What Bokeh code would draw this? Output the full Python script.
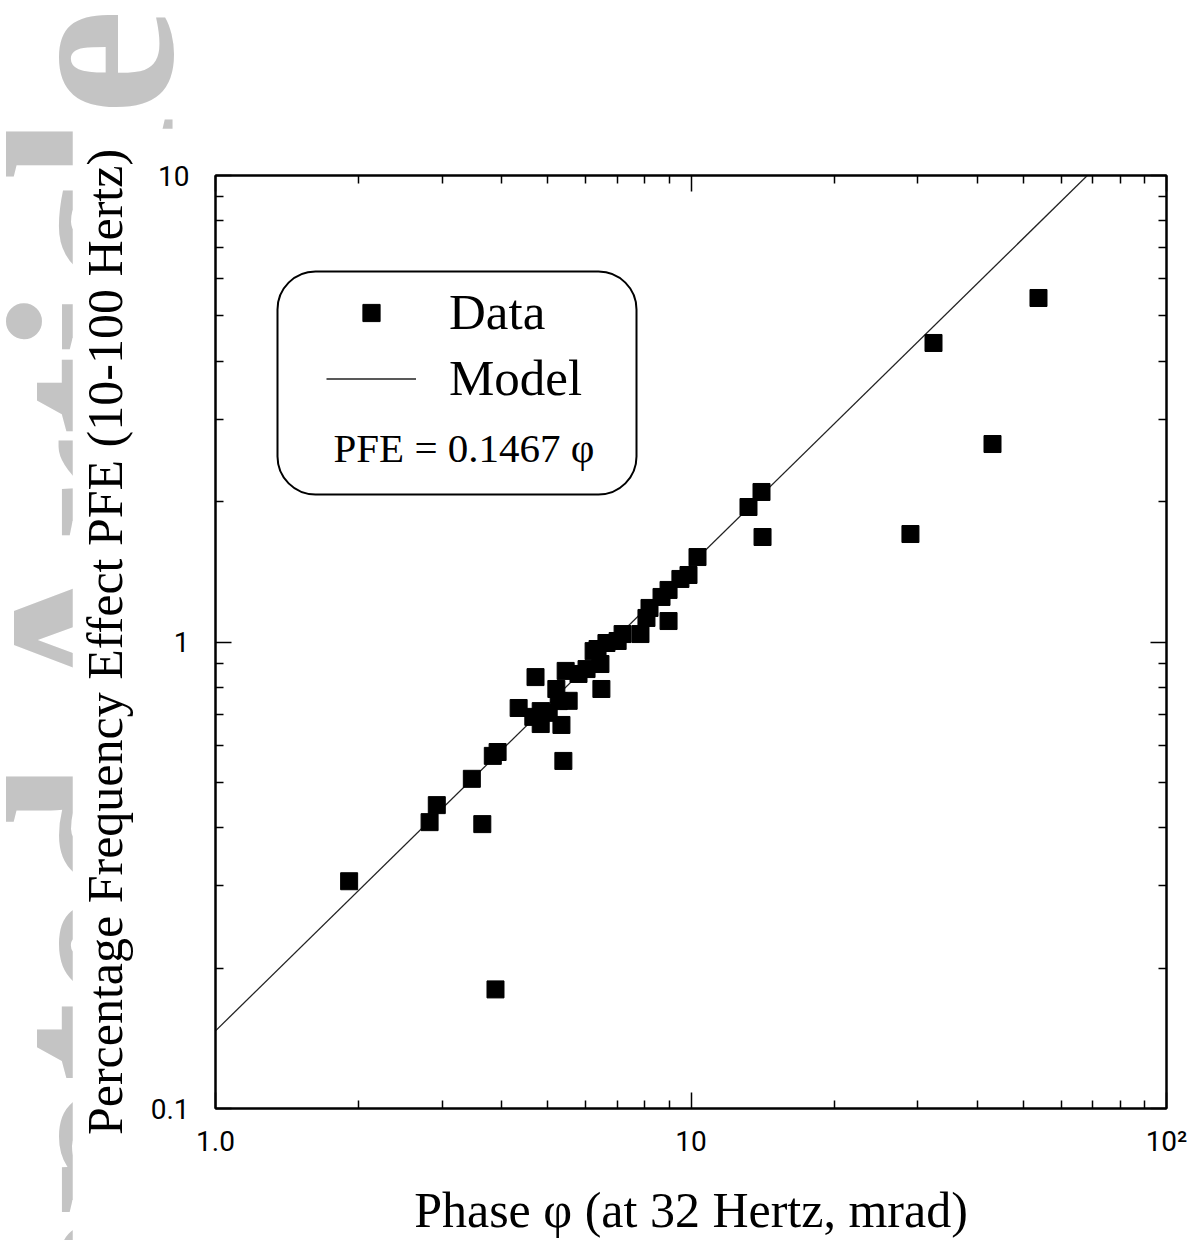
from bokeh.plotting import figure
from bokeh.layouts import column
from bokeh.models import (LogAxis, FixedTicker, CustomJSTickFormatter, Label,
                          BoxAnnotation, Legend, LegendItem, Range1d, Div)
from bokeh.embed import file_html
from bokeh.resources import INLINE

# ---- data ----
phase = [1.91, 3.88, 2.82, 2.92, 3.64, 3.46, 3.83, 3.92, 5.39, 4.34,
         4.71, 4.66, 4.83, 5.02, 5.34, 5.21, 5.45, 5.53, 5.80, 6.36,
         6.45, 6.48, 6.64, 7.01, 7.18, 7.83, 8.06, 8.18, 8.67, 8.97,
         8.97, 9.50, 9.88, 10.32, 13.21, 14.07, 14.14, 28.94, 32.36, 43.06,
         53.80, 6.03, 4.83, 5.27, 6.24]
pfe = [0.307, 0.180, 0.411, 0.447, 0.407, 0.509, 0.570, 0.581, 0.556, 0.722,
       0.841, 0.691, 0.667, 0.705, 0.664, 0.793, 0.867, 0.748, 0.854, 0.966,
       0.897, 0.793, 0.995, 1.005, 1.040, 1.040, 1.126, 1.183, 1.249, 1.293,
       1.109, 1.365, 1.392, 1.521, 1.947, 2.097, 1.679, 1.704, 4.375, 2.657,
       5.463, 0.875, 0.711, 0.747, 0.956]

model_coef = 0.1467
model_x = [1.0, 100.0]
model_y = [model_coef * v for v in model_x]

x_major = [1, 10, 100]
x_minor = [2, 3, 4, 5, 6, 7, 8, 9, 20, 30, 40, 50, 60, 70, 80, 90]
y_major = [0.1, 1, 10]
y_minor = [0.2, 0.3, 0.4, 0.5, 0.6, 0.7, 0.8, 0.9, 2, 3, 4, 5, 6, 7, 8, 9]

watermark_text = "Accepted Article"

SERIF = "Liberation Serif"
SANS = "Roboto"

# page geometry (px)
W, H = 1192, 1240
BX, BY = 72, 128                       # where the chart panel sits on the page
FL, FR, FT, FB = 215, 1166, 175, 1108  # frame edges on the page

# ---------------- background page with the vertical watermark ----------------
WM_X, WM_Y = -29, 1708   # line-box top-left before the -90deg rotation
wm_html = ('<div style="position:absolute; left:%dpx; top:%dpx; margin:0; padding:0; '
           'transform-origin:0 0; transform:rotate(-90deg); '
           "font-family:'Liberation Serif', serif; font-weight:bold; font-size:240px; "
           'line-height:1; color:#c4c4c4; white-space:nowrap;">%s</div>'
           % (WM_X, WM_Y, watermark_text))
bg = Div(text=wm_html, width=W, height=H, margin=0,
         styles={"overflow": "hidden", "position": "relative",
                 "background-color": "white"})

# ---------------- the chart ----------------
CW, CH = W - BX, H - BY
p = figure(width=CW, height=CH, x_axis_type="log", y_axis_type="log",
           x_range=Range1d(1, 100), y_range=Range1d(0.1, 10),
           output_backend="svg", toolbar_location=None,
           min_border_left=FL - BX, min_border_right=CW - (FR - BX),
           min_border_top=FT - BY, min_border_bottom=CH - (FB - BY))
p.margin = (-(H - BY), 0, 0, BX)
p.grid.visible = False
p.outline_line_color = "black"
p.outline_line_width = 2
p.background_fill_color = "white"
p.border_fill_color = "white"


def style_axis(ax, labels=True):
    ax.axis_line_color = "black"
    ax.axis_line_width = 2
    ax.major_tick_in = 16
    ax.major_tick_out = 0
    ax.minor_tick_in = 8
    ax.minor_tick_out = 0
    ax.major_tick_line_width = 1.5
    ax.minor_tick_line_width = 1.5
    ax.major_tick_line_color = "black"
    ax.minor_tick_line_color = "black"
    ax.major_label_text_color = "black"
    ax.axis_label_text_color = "black"
    if not labels:
        ax.major_label_text_font_size = "0px"
        ax.major_label_standoff = 0


xfmt = CustomJSTickFormatter(code="return tick < 5 ? '1.0' : (tick < 50 ? '10' : '10\\u00b2');")
yfmt = CustomJSTickFormatter(code="return tick < 0.5 ? '0.1' : (tick < 5 ? '1' : '10');")
blank = CustomJSTickFormatter(code="return '';")

xa = p.xaxis[0]
xa.ticker = FixedTicker(ticks=x_major, minor_ticks=x_minor)
xa.formatter = xfmt
style_axis(xa)
xa.major_label_text_font = SANS
xa.major_label_text_font_size = "28px"
xa.major_label_standoff = 16
xa.axis_label = "Phase φ (at 32 Hertz, mrad)"
xa.axis_label_text_font = SERIF
xa.axis_label_text_font_size = "50px"
xa.axis_label_text_font_style = "normal"
xa.axis_label_standoff = 21

ya = p.yaxis[0]
ya.ticker = FixedTicker(ticks=y_major, minor_ticks=y_minor)
ya.formatter = yfmt
style_axis(ya)
ya.major_label_text_font = SANS
ya.major_label_text_font_size = "28px"
ya.major_label_standoff = 26
ya.axis_label = "Percentage Frequency Effect PFE (10-100 Hertz)"
ya.axis_label_text_font = SERIF
ya.axis_label_text_font_size = "50px"
ya.axis_label_text_font_style = "normal"
ya.axis_label_standoff = 15

top = LogAxis(ticker=FixedTicker(ticks=x_major, minor_ticks=x_minor), formatter=blank)
style_axis(top, labels=False)
p.add_layout(top, "above")
right = LogAxis(ticker=FixedTicker(ticks=y_major, minor_ticks=y_minor), formatter=blank)
style_axis(right, labels=False)
p.add_layout(right, "right")

# ---- glyphs ----
r_model = p.line(model_x, model_y, line_color="#222222", line_width=1.3)
r_data = p.scatter(phase, pfe, marker="square", size=17,
                   fill_color="black", line_color="black")

# ---- legend ----
box = BoxAnnotation(left=62, right=421, top=837, bottom=614,
                    left_units="screen", right_units="screen",
                    top_units="screen", bottom_units="screen",
                    fill_alpha=0, line_color="black", line_alpha=1.0,
                    line_width=2, border_radius=38)
p.add_layout(box)

legend = Legend(items=[LegendItem(label="Data", renderers=[r_data]),
                       LegendItem(label="Model", renderers=[r_model])],
                location=(111, 701), glyph_width=90, glyph_height=43,
                label_standoff=33, spacing=8, padding=0, margin=0,
                border_line_alpha=0, background_fill_alpha=0,
                label_text_font=SERIF, label_text_font_size="51px",
                label_text_color="black")
p.add_layout(legend)

pfe_lbl = Label(x=118, y=661, x_units="screen", y_units="screen",
                text="PFE = 0.1467 φ", text_font=SERIF, text_font_size="41px",
                text_baseline="middle", text_align="left", text_color="black")
p.add_layout(pfe_lbl)

page = column(bg, p, spacing=0)
open("out.html", "w", encoding="utf-8").write(file_html(page, INLINE))
